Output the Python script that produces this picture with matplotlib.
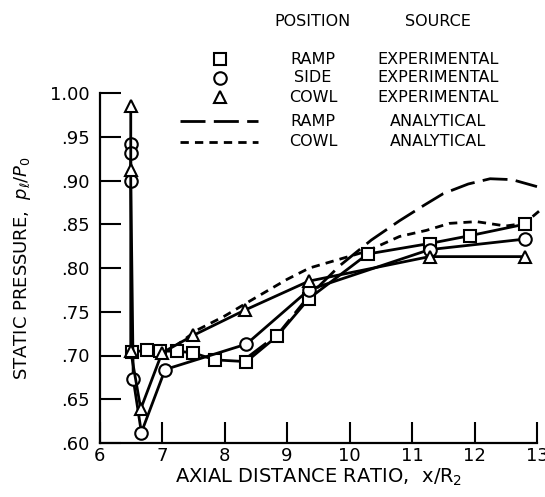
import matplotlib
matplotlib.use("Agg")
import matplotlib.pyplot as plt
from matplotlib.lines import Line2D
from matplotlib.ticker import FuncFormatter

plt.rcParams['font.family'] = ['Liberation Sans Narrow', 'DejaVu Sans']

ramp_x = [6.52, 6.76, 6.97, 7.24, 7.50, 7.85, 8.35, 8.84, 9.35, 10.29, 11.28, 11.93, 12.80]
ramp_y = [0.704, 0.706, 0.705, 0.705, 0.703, 0.695, 0.693, 0.722, 0.765, 0.816, 0.828, 0.837, 0.850]

side_x = [6.50, 6.50, 6.50, 6.54, 6.67, 7.05, 8.35, 9.35, 11.28, 12.80]
side_y = [0.942, 0.931, 0.900, 0.673, 0.612, 0.684, 0.713, 0.775, 0.821, 0.833]

cowl_x = [6.50, 6.50, 6.50, 6.66, 7.00, 7.50, 8.33, 9.35, 11.28, 12.80]
cowl_y = [0.985, 0.912, 0.705, 0.639, 0.703, 0.723, 0.752, 0.785, 0.813, 0.813]

# analytical curves
ramp_an_x = [8.35, 8.85, 9.35, 9.85, 10.35, 10.8, 11.2, 11.5, 11.9, 12.25, 12.6, 13.0]
ramp_an_y = [0.697, 0.724, 0.768, 0.803, 0.832, 0.854, 0.872, 0.885, 0.896, 0.902, 0.901, 0.893]

cowl_an_x = [7.2, 7.56, 8.0, 8.4, 9.0, 9.36, 10.27, 10.8, 11.23, 11.6, 12.03, 12.5, 12.8, 13.05]
cowl_an_y = [0.710, 0.729, 0.745, 0.762, 0.787, 0.800, 0.819, 0.836, 0.843, 0.851, 0.853, 0.848, 0.851, 0.866]

x_ticks = [6, 7, 8, 9, 10, 11, 12, 13]
y_ticks = [0.60, 0.65, 0.70, 0.75, 0.80, 0.85, 0.90, 0.95, 1.00]

W, H = 545, 497
fig = plt.figure(figsize=(W / 100, H / 100), dpi=100)
ax = fig.add_axes([99.5 / W, 1 - 443 / H, 437.5 / W, 350 / H])

lw = 2.0
mk = dict(markerfacecolor="white", markeredgecolor="black", markeredgewidth=1.5,
          markersize=9, color="black", linewidth=lw, clip_on=False)

ax.plot(ramp_an_x, ramp_an_y, color="black", linewidth=lw, dashes=(9, 3), clip_on=False)
ax.plot(cowl_an_x, cowl_an_y, color="black", linewidth=lw, dashes=(3, 2.2), clip_on=False)
ax.plot(ramp_x, ramp_y, marker="s", zorder=3, **mk)
ax.plot(side_x, side_y, marker="o", zorder=3, **mk)
ax.plot(cowl_x, cowl_y, marker="^", zorder=3, **mk)

ax.set_xlim(6, 13)
ax.set_ylim(0.60, 1.00)
ax.set_xticks(x_ticks)
ax.set_yticks(y_ticks)
ax.yaxis.set_major_formatter(FuncFormatter(
    lambda v, p: "1.00" if v >= 0.999 else ("%.2f" % v)[1:]))
ax.spines["top"].set_visible(False)
ax.spines["right"].set_visible(False)
for s in ("left", "bottom"):
    ax.spines[s].set_linewidth(1.6)
ax.tick_params(direction="in", length=15, width=1.5, labelsize=13)
ax.tick_params(axis="x", pad=3)
ax.tick_params(axis="y", pad=7)

ax.set_xlabel(r"AXIAL DISTANCE RATIO,  x/R$_2$", fontsize=14, labelpad=1)
ax.set_ylabel(r"STATIC PRESSURE,  $p_\ell/P_0$", fontsize=13, labelpad=12)

# legend laid out as a small table
def fy(py):
    return 1 - py / H

fs = 11.5
fig.text(313 / W, fy(21), "POSITION", ha="center", va="center", fontsize=fs)
fig.text(438 / W, fy(21), "SOURCE", ha="center", va="center", fontsize=fs)
rows = [("s", None, "RAMP", "EXPERIMENTAL"),
        ("o", None, "SIDE", "EXPERIMENTAL"),
        ("^", None, "COWL", "EXPERIMENTAL"),
        (None, (9, 3), "RAMP", "ANALYTICAL"),
        (None, (3, 2.2), "COWL", "ANALYTICAL")]
row_y = [59, 78, 97, 121, 142]
for (m, d, pos, src), py in zip(rows, row_y):
    if m:
        fig.add_artist(Line2D([220 / W], [fy(py)], marker=m, markersize=9,
                              markerfacecolor="white", markeredgecolor="black",
                              markeredgewidth=1.5, linestyle="none",
                              transform=fig.transFigure))
    else:
        fig.add_artist(Line2D([180 / W, 258 / W], [fy(py), fy(py)], color="black",
                              linewidth=lw, dashes=d, transform=fig.transFigure))
    fig.text(313 / W, fy(py), pos, ha="center", va="center", fontsize=fs)
    fig.text(438 / W, fy(py), src, ha="center", va="center", fontsize=fs)

fig.savefig("out.png", dpi=100)
